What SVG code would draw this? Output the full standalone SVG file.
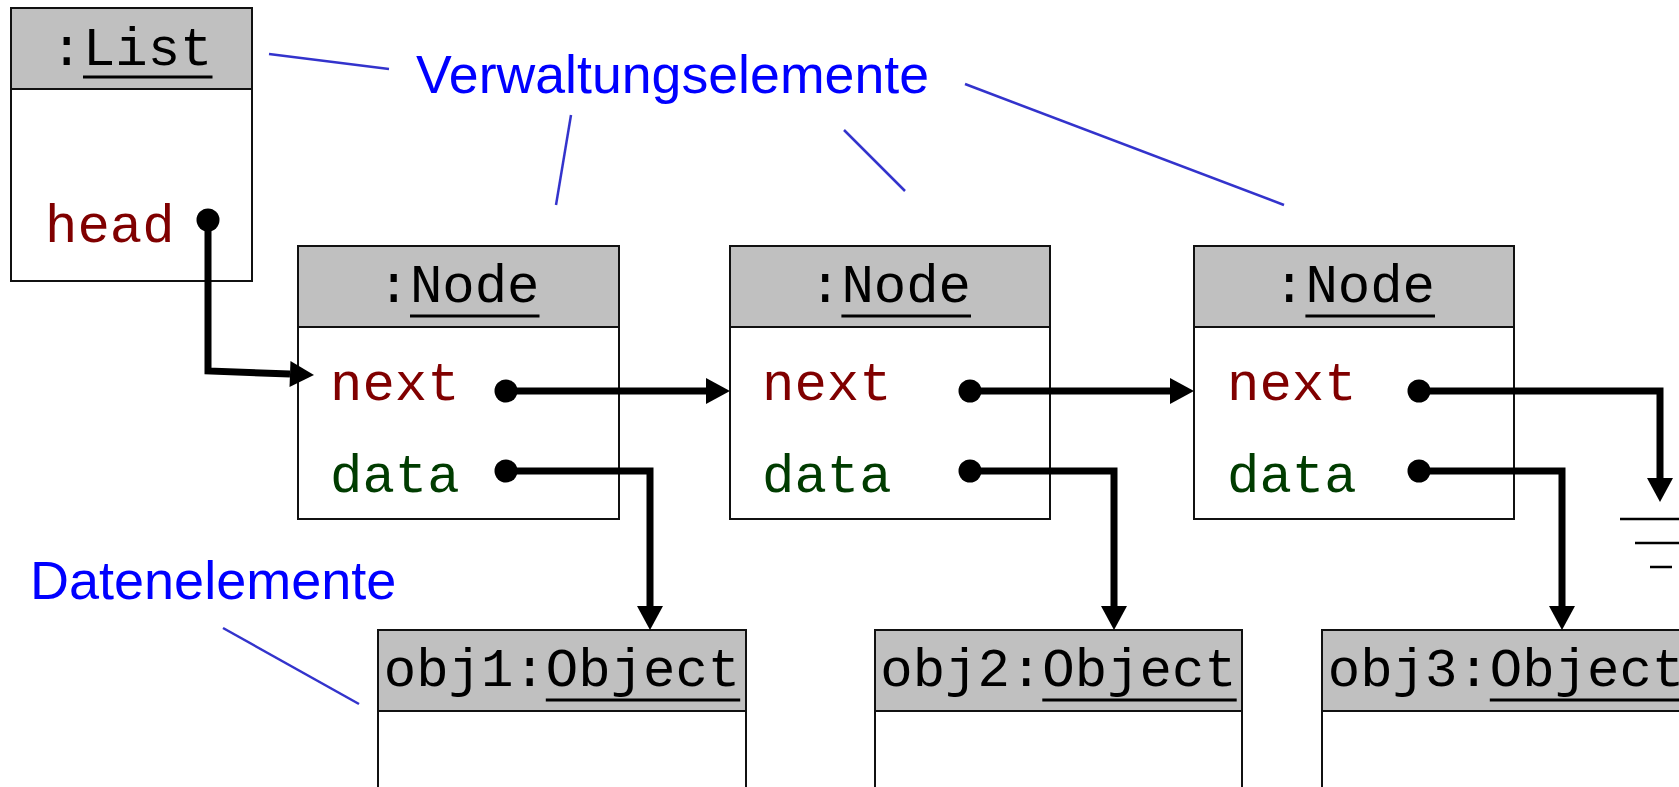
<svg xmlns="http://www.w3.org/2000/svg" width="1679" height="787" viewBox="0 0 1679 787">
  <style>
    .box { fill: #ffffff; stroke: #111111; stroke-width: 2; }
    .hdr { fill: #c0c0c0; stroke: #111111; stroke-width: 2; }
    .mono { font-family: "Liberation Mono", "Courier New", monospace; font-size: 54px; }
    .title { fill: #000000; }
    .ref { fill: #800000; }
    .val { fill: #003c00; }
    .ul { stroke: #000000; stroke-width: 3; }
    .note { font-family: "Liberation Sans", Arial, sans-serif; font-size: 54px; fill: #0000ff; }
    .lead { stroke: #3333cc; stroke-width: 2.5; fill: none; }
    .ptr { stroke: #000000; stroke-width: 7; fill: none; stroke-linejoin: miter; marker-end: url(#head); }
    .dot { fill: #000000; }
    .gnd { stroke: #000000; stroke-width: 2.5; }
  </style>
  <defs>
    <marker id="head" markerUnits="userSpaceOnUse" markerWidth="24" markerHeight="26" refX="0" refY="13" orient="auto" overflow="visible">
      <path d="M0,0 L24,13 L0,26 Z" fill="#000000"/>
    </marker>
  </defs>

  <rect width="1679" height="787" fill="#ffffff"/>

  <!-- list object -->
  <g id="list">
    <rect class="box" x="11" y="8" width="241" height="273"/>
    <rect class="hdr" x="11" y="8" width="241" height="81"/>
    <text class="mono title" x="50.5" y="65">:List</text>
    <line class="ul" x1="83" y1="77" x2="212.5" y2="77"/>
    <text class="mono ref" x="45" y="242">head</text>
  </g>

  <!-- node objects -->
  <g id="node1">
    <rect class="box" x="298" y="246" width="321" height="273"/>
    <rect class="hdr" x="298" y="246" width="321" height="81"/>
    <text class="mono title" x="377.5" y="302">:Node</text>
    <line class="ul" x1="410" y1="316" x2="539.5" y2="316"/>
    <text class="mono ref" x="330" y="400">next</text>
    <text class="mono val" x="330" y="492">data</text>
  </g>
  <g id="node2">
    <rect class="box" x="730" y="246" width="320" height="273"/>
    <rect class="hdr" x="730" y="246" width="320" height="81"/>
    <text class="mono title" x="809" y="302">:Node</text>
    <line class="ul" x1="841.4" y1="316" x2="971" y2="316"/>
    <text class="mono ref" x="762" y="400">next</text>
    <text class="mono val" x="762" y="492">data</text>
  </g>
  <g id="node3">
    <rect class="box" x="1194" y="246" width="320" height="273"/>
    <rect class="hdr" x="1194" y="246" width="320" height="81"/>
    <text class="mono title" x="1273" y="302">:Node</text>
    <line class="ul" x1="1305.4" y1="316" x2="1435" y2="316"/>
    <text class="mono ref" x="1227" y="400">next</text>
    <text class="mono val" x="1227" y="492">data</text>
  </g>

  <!-- data objects -->
  <g id="obj1">
    <rect class="box" x="378" y="630" width="368" height="220"/>
    <rect class="hdr" x="378" y="630" width="368" height="81"/>
    <text class="mono title" x="383.8" y="686">obj1:Object</text>
    <line class="ul" x1="545.8" y1="700" x2="740.2" y2="700"/>
  </g>
  <g id="obj2">
    <rect class="box" x="875" y="630" width="367" height="220"/>
    <rect class="hdr" x="875" y="630" width="367" height="81"/>
    <text class="mono title" x="880.3" y="686">obj2:Object</text>
    <line class="ul" x1="1042.3" y1="700" x2="1236.7" y2="700"/>
  </g>
  <g id="obj3">
    <rect class="box" x="1322" y="630" width="368" height="220"/>
    <rect class="hdr" x="1322" y="630" width="368" height="81"/>
    <text class="mono title" x="1327.8" y="686">obj3:Object</text>
    <line class="ul" x1="1489.8" y1="700" x2="1684.2" y2="700"/>
  </g>

  <!-- null terminator -->
  <g id="null">
    <line class="gnd" x1="1620" y1="519" x2="1700" y2="519"/>
    <line class="gnd" x1="1635" y1="543" x2="1686" y2="543"/>
    <line class="gnd" x1="1650" y1="567" x2="1672" y2="567"/>
  </g>

  <!-- annotations -->
  <g id="labels">
    <text class="note" x="416" y="93" textLength="513" lengthAdjust="spacingAndGlyphs">Verwaltungselemente</text>
    <text class="note" x="30" y="599">Datenelemente</text>
  </g>

  <!-- pointer connectors and leader lines -->
  <g id="connectors">
    <line class="lead" x1="269" y1="54" x2="389" y2="69"/>
    <line class="lead" x1="571" y1="115" x2="556" y2="205"/>
    <line class="lead" x1="844" y1="130" x2="905" y2="191"/>
    <line class="lead" x1="965" y1="84" x2="1284" y2="205"/>
    <line class="lead" x1="223" y1="628" x2="359" y2="704"/>

    <path class="ptr" d="M208,220 V371 L290,374"/>
    <path class="ptr" d="M506,391 H706"/>
    <path class="ptr" d="M970,391 H1170"/>
    <path class="ptr" d="M1419,391 H1660 V478"/>
    <path class="ptr" d="M506,471 H650 V606"/>
    <path class="ptr" d="M970,471 H1114 V606"/>
    <path class="ptr" d="M1419,471 H1562 V606"/>

    <circle class="dot" cx="208" cy="220" r="11.5"/>
    <circle class="dot" cx="506" cy="391" r="11.5"/>
    <circle class="dot" cx="506" cy="471" r="11.5"/>
    <circle class="dot" cx="970" cy="391" r="11.5"/>
    <circle class="dot" cx="970" cy="471" r="11.5"/>
    <circle class="dot" cx="1419" cy="391" r="11.5"/>
    <circle class="dot" cx="1419" cy="471" r="11.5"/>
  </g>
</svg>
